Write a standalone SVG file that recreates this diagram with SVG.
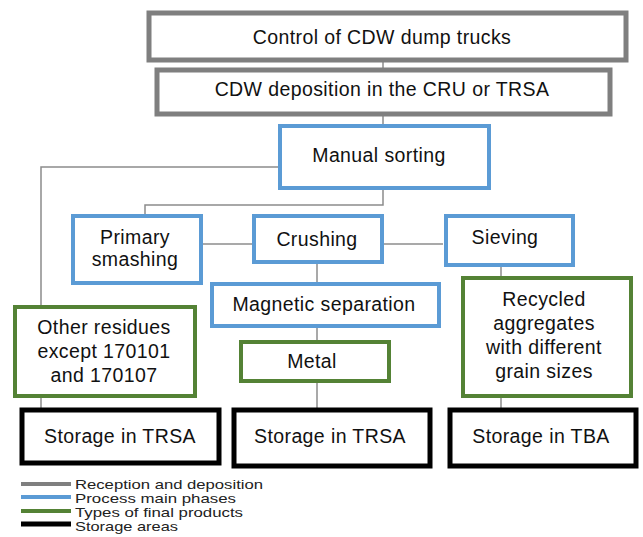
<svg xmlns="http://www.w3.org/2000/svg" width="643" height="537" viewBox="0 0 643 537">
<style>
  .t{font-family:"Liberation Sans",Arial,sans-serif;font-size:19.5px;letter-spacing:0.4px;fill:#111;text-anchor:middle;dominant-baseline:central}
  .lg{font-family:"Liberation Sans",Arial,sans-serif;font-size:13px;fill:#222;dominant-baseline:central}
  .gray{fill:#fff;stroke:#7f7f7f;stroke-width:5}
  .blue{fill:#fff;stroke:#5b9bd5;stroke-width:4}
  .green{fill:#fff;stroke:#548235;stroke-width:4}
  .black{fill:#fff;stroke:#000;stroke-width:5}
  .c{fill:none;stroke:#8c8c8c;stroke-width:1.5}
</style>
<rect width="643" height="537" fill="#fff"/>
<g id="connectors">
  <path class="c" d="M383 61V68"/>
  <path class="c" d="M383 115V124"/>
  <path class="c" d="M278 167H41V305"/>
  <path class="c" d="M383 190V205H145V214"/>
  <path class="c" d="M202 244H252"/>
  <path class="c" d="M384 244H443"/>
  <path class="c" d="M317 263V282"/>
  <path class="c" d="M317 327V340"/>
  <path class="c" d="M501 266V276"/>
  <path class="c" d="M41 397V408"/>
  <path class="c" d="M317 383V408"/>
  <path class="c" d="M501 397V408"/>
</g>
<g id="n1"><rect class="gray" x="149" y="13" width="477" height="47"/><text class="t" x="382" y="37">Control of CDW dump trucks</text></g>
<g id="n2"><rect class="gray" x="157" y="70" width="453" height="44"/><text class="t" x="382" y="89">CDW deposition in the CRU or TRSA</text></g>
<g id="n3"><rect class="blue" x="280" y="126" width="209" height="62"/><text class="t" x="379" y="155">Manual sorting</text></g>
<g id="n4"><rect class="blue" x="73" y="216" width="128" height="67"/><text class="t" x="135" y="237">Primary</text><text class="t" x="135" y="259">smashing</text></g>
<g id="n5"><rect class="blue" x="254" y="216" width="128" height="46"/><text class="t" x="317" y="239">Crushing</text></g>
<g id="n6"><rect class="blue" x="446" y="216" width="127" height="49"/><text class="t" x="505" y="237">Sieving</text></g>
<g id="n7"><rect class="blue" x="212" y="284" width="227" height="42"/><text class="t" x="324" y="304">Magnetic separation</text></g>
<g id="n8"><rect class="green" x="241" y="342" width="148" height="39"/><text class="t" x="312" y="361">Metal</text></g>
<g id="n9"><rect class="green" x="15" y="307" width="180" height="89"/><text class="t" x="104" y="327">Other residues</text><text class="t" x="104" y="351">except 170101</text><text class="t" x="104" y="375">and 170107</text></g>
<g id="n10"><rect class="green" x="463" y="278" width="168" height="118"/><text class="t" x="544" y="299">Recycled</text><text class="t" x="544" y="323">aggregates</text><text class="t" x="544" y="347">with different</text><text class="t" x="544" y="371">grain sizes</text></g>
<g id="n11"><rect class="black" x="22" y="410" width="197" height="53"/><text class="t" x="120" y="436">Storage in TRSA</text></g>
<g id="n12"><rect class="black" x="234" y="410" width="196" height="56"/><text class="t" x="330" y="436">Storage in TRSA</text></g>
<g id="n13"><rect class="black" x="450" y="410" width="186" height="56"/><text class="t" x="541" y="436">Storage in TBA</text></g>
<g id="legend">
  <line x1="21" y1="484" x2="71" y2="484" stroke="#7f7f7f" stroke-width="4"/>
  <line x1="21" y1="497" x2="71" y2="497" stroke="#5b9bd5" stroke-width="4"/>
  <line x1="21" y1="511" x2="71" y2="511" stroke="#548235" stroke-width="4"/>
  <line x1="21" y1="524" x2="71" y2="524" stroke="#000" stroke-width="5"/>
  <text class="lg" x="75" y="484" textLength="188" lengthAdjust="spacingAndGlyphs">Reception and deposition</text>
  <text class="lg" x="75" y="498" textLength="161" lengthAdjust="spacingAndGlyphs">Process main phases</text>
  <text class="lg" x="75" y="512" textLength="168" lengthAdjust="spacingAndGlyphs">Types of final products</text>
  <text class="lg" x="75" y="526" textLength="103" lengthAdjust="spacingAndGlyphs">Storage areas</text>
</g>
</svg>
